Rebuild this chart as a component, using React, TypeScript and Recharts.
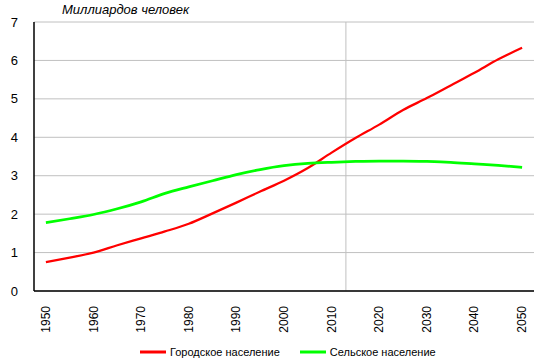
import { CartesianGrid, Legend, Line, LineChart, ReferenceLine, XAxis, YAxis } from "recharts";

const YEARS = [
  1950, 1955, 1960, 1965, 1970, 1975, 1980, 1985, 1990, 1995, 2000, 2005, 2010, 2015, 2020, 2025, 2030, 2035, 2040,
  2045, 2050,
];
const URBAN = [
  0.75, 0.87, 1.0, 1.19, 1.37, 1.55, 1.75, 2.02, 2.3, 2.59, 2.87, 3.2, 3.6, 3.98, 4.33, 4.71, 5.02, 5.35, 5.68, 6.03,
  6.33,
];
const RURAL = [
  1.78, 1.88, 1.99, 2.14, 2.32, 2.54, 2.71, 2.87, 3.03, 3.16, 3.26, 3.32, 3.35, 3.37, 3.38, 3.38, 3.37, 3.35, 3.31,
  3.27, 3.22,
];
const X_TICKS = [1950, 1960, 1970, 1980, 1990, 2000, 2010, 2020, 2030, 2040, 2050];
const Y_TICKS = [0, 1, 2, 3, 4, 5, 6, 7];
const NOW_YEAR = 2013;

const URBAN_COLOR = "#ff0000";
const RURAL_COLOR = "#00ff00";
const FONT = "'Liberation Sans', Arial, sans-serif";

const data = YEARS.map((year, i) => ({ year, urban: URBAN[i], rural: RURAL[i] }));

function YearTick({ x, y, payload }: { x: number; y: number; payload: { value: number } }) {
  const tx = x + 4;
  const ty = y + 7;
  return (
    <text x={tx} y={ty} transform={`rotate(-90, ${tx}, ${ty})`} textAnchor="end" fontSize={12} fill="#000">
      {payload.value}
    </text>
  );
}

function LegendContent() {
  const items = [
    { name: "Городское население", color: URBAN_COLOR },
    { name: "Сельское население", color: RURAL_COLOR },
  ];
  return (
    <div style={{ display: "flex", alignItems: "center", height: 20, paddingLeft: 140, fontSize: 11, fontFamily: FONT }}>
      {items.map((item) => (
        <div key={item.name} style={{ display: "flex", alignItems: "center", marginRight: 20 }}>
          <svg width={26} height={4} style={{ marginRight: 4 }}>
            <line x1={0} y1={2} x2={26} y2={2} stroke={item.color} strokeWidth={3} />
          </svg>
          <span>{item.name}</span>
        </div>
      ))}
    </div>
  );
}

export default function App() {
  return (
    <div style={{ position: "absolute", left: 0, top: 0, width: 538, height: 362, background: "#fff", fontFamily: FONT }}>
      <div style={{ position: "absolute", left: 62, top: 2, fontSize: 13, fontStyle: "italic" }}>Миллиардов человек</div>
      <LineChart width={538} height={362} data={data} margin={{ top: 22, right: 4, left: 0, bottom: 0 }}>
        <CartesianGrid vertical={false} stroke="#c0c0c0" />
        <XAxis
          dataKey="year"
          type="number"
          domain={[1947.5, 2052.5]}
          ticks={X_TICKS}
          interval={0}
          tickLine={false}
          axisLine={{ stroke: "#000", strokeWidth: 1.5 }}
          tick={YearTick}
          height={51}
        />
        <YAxis
          domain={[0, 7]}
          ticks={Y_TICKS}
          tickLine={false}
          axisLine={{ stroke: "#000", strokeWidth: 1.5 }}
          tick={{ fill: "#000", fontSize: 13 }}
          width={34}
          tickMargin={10}
        />
        <ReferenceLine x={NOW_YEAR} stroke="#c0c0c0" />
        <Legend verticalAlign="bottom" content={LegendContent} />
        <Line
          dataKey="urban"
          name="Городское население"
          type="monotone"
          stroke={URBAN_COLOR}
          strokeWidth={2.25}
          dot={false}
          isAnimationActive={false}
        />
        <Line
          dataKey="rural"
          name="Сельское население"
          type="monotone"
          stroke={RURAL_COLOR}
          strokeWidth={2.75}
          dot={false}
          isAnimationActive={false}
        />
      </LineChart>
    </div>
  );
}
